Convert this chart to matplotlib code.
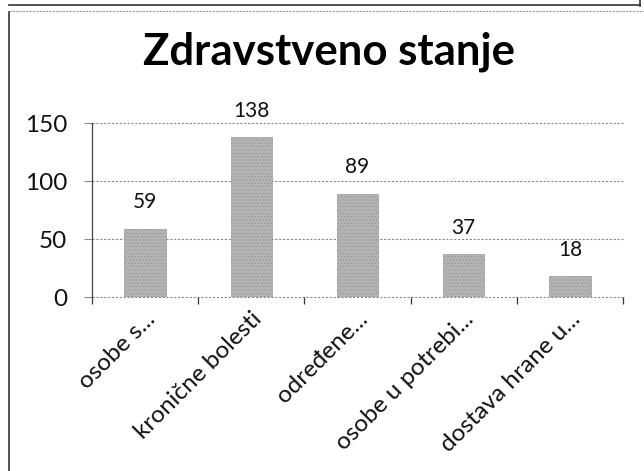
import matplotlib
matplotlib.use("Agg")
import matplotlib.pyplot as plt
from matplotlib.lines import Line2D

categories = ["osobe s...", "kronične bolesti", "određene...", "osobe u potrebi...", "dostava hrane u..."]
values = [59, 138, 89, 37, 18]
yticks = [0, 50, 100, 150]
title = "Zdravstveno stanje"

plt.rcParams['font.family'] = ['Lato', 'DejaVu Sans']
plt.rcParams['hatch.color'] = '#7a7a7a'
plt.rcParams['hatch.linewidth'] = 0.6

W, H = 644, 471
fig = plt.figure(figsize=(W/100, H/100), dpi=100)
ax = fig.add_axes([92/W, 1-297/H, (623-92)/W, (297-123)/H])

x = list(range(len(categories)))
bars = ax.bar(x, values, width=0.39, color='#b4b4b4', hatch='.....', edgecolor='#9a9a9a', linewidth=0.5, zorder=3)
for xi, v in zip(x, values):
    ax.annotate(str(v), (xi, v), xytext=(0, 19), textcoords='offset points',
                ha='center', va='center', fontsize=15, color='#111111')

ax.set_xlim(-0.5, len(categories)-0.5)
ax.set_ylim(0, 150)
ax.set_yticks(yticks)
ax.set_yticklabels([str(t) for t in yticks], fontsize=17.5, color='#111111')
for t in yticks:
    ax.axhline(t, color='#8a8a8a', lw=0.8, ls=(0, (2, 1.5)), zorder=1, clip_on=False)
ax.tick_params(axis='y', length=6, color='#8a8a8a', width=0.8, pad=12)

ax.set_xticks([i - 0.5 for i in range(len(categories)+1)])
ax.set_xticklabels([])
ax.tick_params(axis='x', which='major', length=5, color='#333333', width=0.9, direction='out')
for xi, c in zip(x, categories):
    ax.annotate(c, (xi, 0), xytext=(5, -13.5), textcoords='offset points',
                ha='right', va='center', rotation=45, rotation_mode='anchor',
                fontsize=17.5, color='#111111', annotation_clip=False)

for s in ['top', 'right', 'bottom']:
    ax.spines[s].set_visible(False)
ax.spines['left'].set_color('#444444')
ax.spines['left'].set_linewidth(0.9)

fig.text(329/W, 1-52/H, title, ha='center', va='center', fontsize=31.5, fontweight='bold', color='#000000')

def px_line(x0, y0, x1, y1, **kw):
    fig.add_artist(Line2D([x0/W, x1/W], [1-y0/H, 1-y1/H], transform=fig.transFigure, **kw))

px_line(9, 5, 640, 5, color='#333333', lw=1.2)
px_line(9, 11, 644, 11, color='#999999', lw=0.8, ls=(0, (2, 1)))
px_line(9, 12, 9, 471, color='#333333', lw=1.2)
px_line(640, 0, 640, 6, color='#333333', lw=1.2)

fig.savefig('out.png', dpi=100)
